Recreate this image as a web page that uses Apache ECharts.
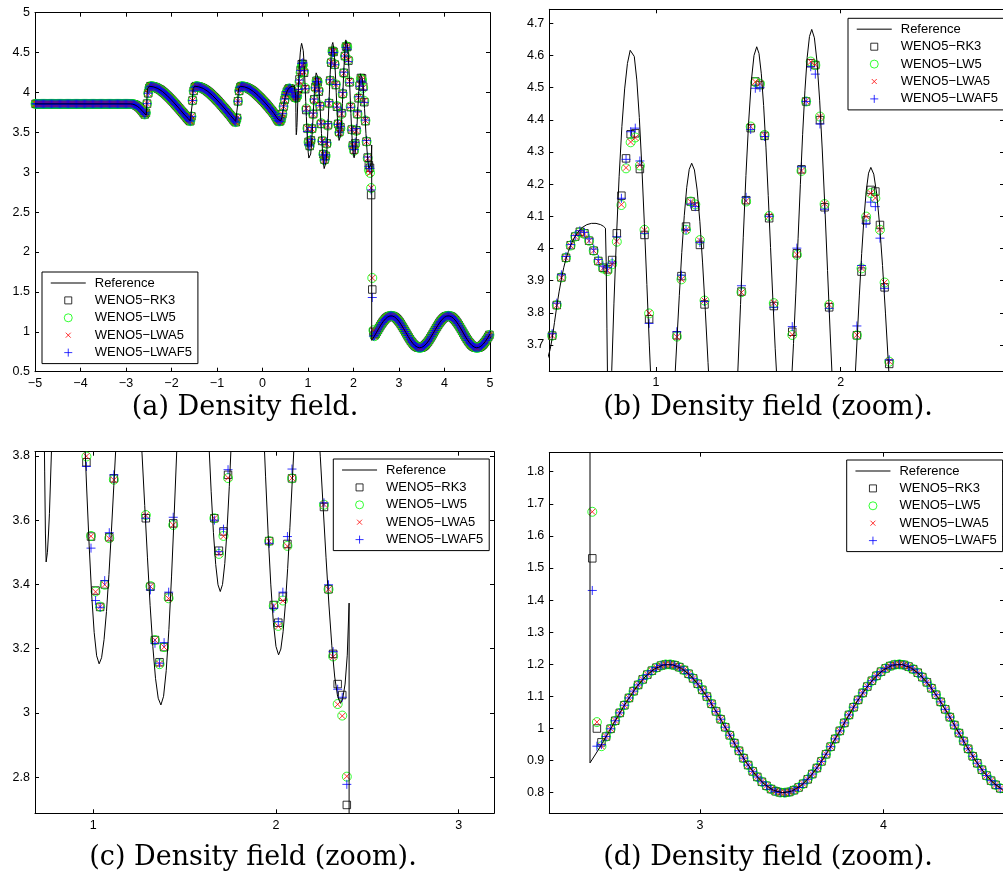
<!DOCTYPE html>
<html lang="en">
<head>
<meta charset="UTF-8">
<title>Density field</title>
<script src="https://cdn.jsdelivr.net/npm/echarts@6.0.0/dist/echarts.min.js"></script>
<style>html,body{margin:0;padding:0;background:#fff;}</style>
</head>
<body>
<div id="chart" style="width:1003px;height:878px;"></div>
<script>
// cell centres: x = x0 + dx * i, i = 0..399
var x0 = -4.9875, dx = 0.025;

// shared numerical density, cells 0..216 (x <= 0.4125)
var rhoLeft = [
  3.857, 3.857, 3.857, 3.857, 3.857, 3.857, 3.857, 3.857, 3.857, 3.857, 3.857, 3.857,
  3.857, 3.857, 3.857, 3.857, 3.857, 3.857, 3.857, 3.857, 3.857, 3.857, 3.857, 3.857,
  3.857, 3.857, 3.857, 3.857, 3.857, 3.857, 3.857, 3.857, 3.857, 3.857, 3.857, 3.857,
  3.857, 3.857, 3.857, 3.857, 3.857, 3.857, 3.857, 3.857, 3.857, 3.857, 3.857, 3.857,
  3.857, 3.857, 3.857, 3.857, 3.857, 3.857, 3.857, 3.857, 3.857, 3.857, 3.857, 3.857,
  3.857, 3.857, 3.857, 3.857, 3.857, 3.857, 3.857, 3.857, 3.857, 3.857, 3.857, 3.857,
  3.857, 3.857, 3.857, 3.857, 3.857, 3.857, 3.857, 3.857, 3.857, 3.857, 3.857, 3.857,
  3.856, 3.855, 3.852, 3.848, 3.842, 3.834, 3.824, 3.812, 3.798, 3.782, 3.765, 3.745,
  3.725, 3.745, 3.86, 3.99, 4.055,
  4.079, 4.078, 4.076, 4.072, 4.067, 4.062, 4.054, 4.046, 4.039, 4.030, 4.018, 4.007,
  3.996, 3.983, 3.969, 3.956, 3.942, 3.928, 3.913, 3.898, 3.883, 3.867, 3.851, 3.835,
  3.818, 3.802, 3.786, 3.769, 3.753, 3.737, 3.719, 3.702, 3.685, 3.668, 3.652, 3.640,
  3.70, 3.90, 4.02, 4.065,
  4.079, 4.078, 4.075, 4.071, 4.066, 4.060, 4.053, 4.045, 4.037, 4.028, 4.017, 4.006,
  3.994, 3.981, 3.968, 3.954, 3.940, 3.926, 3.911, 3.896, 3.881, 3.865, 3.849, 3.833,
  3.816, 3.800, 3.784, 3.767, 3.750, 3.733, 3.715, 3.697, 3.679, 3.660, 3.642, 3.628,
  3.68, 3.89, 4.02, 4.065,
  4.079, 4.077, 4.075, 4.071, 4.066, 4.060, 4.053, 4.045, 4.037, 4.028, 4.017, 4.006,
  3.994, 3.981, 3.968, 3.954, 3.940, 3.926, 3.911, 3.896, 3.881, 3.865, 3.849, 3.832,
  3.815, 3.798, 3.781, 3.763, 3.745, 3.726, 3.70, 3.675, 3.652, 3.638, 3.64, 3.668
];

// per-scheme density, cells 217..299 (x = 0.4375 .. 2.4875)
var rk3Mid = [
  3.729, 3.824, 3.910, 3.971, 4.010, 4.037, 4.052, 4.047, 4.024, 3.993,
  3.961, 3.940, 3.935, 3.964, 4.047, 4.164, 4.280, 4.355, 4.358, 4.247,
  4.042, 3.780, 3.549, 3.381, 3.330, 3.400, 3.547, 3.730, 3.914, 4.068,
  4.146, 4.130, 4.011, 3.826, 3.606, 3.393, 3.227, 3.158, 3.205, 3.362,
  3.590, 3.866, 4.150, 4.374, 4.519, 4.508, 4.350, 4.094, 3.821, 3.606,
  3.505, 3.565, 3.741, 3.985, 4.246, 4.457, 4.576, 4.570, 4.399, 4.128,
  3.817, 3.535, 3.336, 3.281, 3.362, 3.526, 3.730, 3.928, 4.087, 4.182,
  4.177, 4.073, 3.879, 3.641, 3.385, 3.184, 3.090, 3.056, 2.714, 1.530,
  1.000, 0.957, 0.975
];
var lw5Mid = [
  3.729, 3.824, 3.910, 3.971, 4.009, 4.037, 4.050, 4.045, 4.024, 3.993,
  3.960, 3.938, 3.930, 3.951, 4.021, 4.135, 4.249, 4.330, 4.345, 4.258,
  4.058, 3.798, 3.551, 3.378, 3.331, 3.399, 3.544, 3.726, 3.904, 4.058,
  4.146, 4.137, 4.026, 3.838, 3.616, 3.395, 3.227, 3.152, 3.205, 3.357,
  3.585, 3.864, 4.146, 4.379, 4.517, 4.512, 4.353, 4.101, 3.830, 3.606,
  3.495, 3.551, 3.731, 3.980, 4.241, 4.457, 4.581, 4.570, 4.410, 4.138,
  3.825, 3.535, 3.333, 3.271, 3.350, 3.520, 3.730, 3.938, 4.099, 4.172,
  4.156, 4.058, 3.894, 3.648, 3.385, 3.176, 3.028, 2.992, 2.802, 1.675,
  1.020, 0.945, 0.975
];
var lwa5Mid = [
  3.729, 3.823, 3.909, 3.971, 4.009, 4.037, 4.049, 4.045, 4.024, 3.993,
  3.960, 3.938, 3.931, 3.952, 4.022, 4.136, 4.251, 4.331, 4.344, 4.259,
  4.057, 3.799, 3.550, 3.377, 3.331, 3.399, 3.543, 3.725, 3.904, 4.057,
  4.145, 4.137, 4.025, 3.838, 3.615, 3.394, 3.227, 3.153, 3.205, 3.356,
  3.585, 3.863, 4.147, 4.379, 4.518, 4.513, 4.352, 4.101, 3.831, 3.606,
  3.496, 3.550, 3.732, 3.981, 4.241, 4.458, 4.580, 4.571, 4.410, 4.139,
  3.825, 3.534, 3.333, 3.270, 3.349, 3.519, 3.731, 3.939, 4.100, 4.172,
  4.157, 4.059, 3.894, 3.649, 3.385, 3.175, 3.027, 2.991, 2.803, 1.675,
  1.020, 0.945, 0.975
];
var lwaf5Mid = [
  3.735, 3.830, 3.918, 3.975, 4.012, 4.040, 4.055, 4.050, 4.030, 3.998,
  3.966, 3.945, 3.940, 3.958, 4.036, 4.156, 4.277, 4.363, 4.374, 4.272,
  4.047, 3.767, 3.513, 3.350, 3.329, 3.412, 3.561, 3.741, 3.917, 4.058,
  4.138, 4.130, 4.018, 3.835, 3.606, 3.383, 3.217, 3.155, 3.219, 3.376,
  3.609, 3.884, 4.159, 4.370, 4.498, 4.501, 4.348, 4.100, 3.817, 3.600,
  3.502, 3.572, 3.757, 4.001, 4.254, 4.457, 4.565, 4.542, 4.387, 4.122,
  3.814, 3.528, 3.326, 3.284, 3.376, 3.549, 3.759, 3.947, 4.078, 4.144,
  4.130, 4.032, 3.876, 3.654, 3.399, 3.191, 3.074, 3.049, 2.778, 1.430,
  0.945, 0.950, 0.975
];

// shared numerical density, cells 300..399 (pre-shock region)
var rhoRight = [
  0.9992, 1.0242, 1.0487, 1.0725, 1.0952, 1.1164, 1.1358, 1.1530, 1.1679, 1.1801,
  1.1896, 1.1960, 1.1995, 1.1997, 1.1969, 1.1911, 1.1822, 1.1705, 1.1562, 1.1394,
  1.1204, 1.0996, 1.0771, 1.0534, 1.0290, 1.0041, 0.9791, 0.9545, 0.9306, 0.9077,
  0.8863, 0.8667, 0.8492, 0.8341, 0.8217, 0.8115, 0.8047, 0.8008, 0.8001, 0.8025,
  0.8080, 0.8164, 0.8278, 0.8418, 0.8583, 0.8770, 0.8977, 0.9199, 0.9434, 0.9677,
  0.9926, 1.0176, 1.0423, 1.0663, 1.0893, 1.1109, 1.1308, 1.1487, 1.1642, 1.1771,
  1.1873, 1.1946, 1.1988, 1.2000, 1.1980, 1.1929, 1.1849, 1.1739, 1.1601, 1.1440,
  1.1255, 1.1052, 1.0831, 1.0598, 1.0355, 1.0107, 0.9858, 0.9610, 0.9368, 0.9137,
  0.8919, 0.8717, 0.8536, 0.8377, 0.8245, 0.8139, 0.8062, 0.8015, 0.8000, 0.8016,
  0.8063, 0.8139, 0.8246, 0.8379, 0.8537, 0.8719, 0.8920, 0.9139, 0.9370, 0.9612
];

// reference solution [x, rho]
var refCurve = [
  [-5, 3.857], [-2.9, 3.857], [-2.85, 3.853], [-2.8, 3.843], [-2.75, 3.826], [-2.7, 3.803],
  [-2.65, 3.775], [-2.6, 3.742], [-2.57, 3.722], [-2.555, 3.715], [-2.545, 3.85], [-2.535, 3.99],
  [-2.525, 4.05], [-2.51, 4.072], [-2.49, 4.078], [-2.46, 4.08],
  [-2.4, 4.071], [-2.3, 4.05], [-2.2, 4.013], [-2.1, 3.963], [-2.0, 3.905], [-1.9, 3.843],
  [-1.8, 3.778], [-1.7, 3.711], [-1.63, 3.672], [-1.59, 3.645], [-1.565, 3.632],
  [-1.555, 3.66], [-1.545, 3.85], [-1.535, 3.99], [-1.525, 4.05], [-1.51, 4.072], [-1.49, 4.078], [-1.46, 4.08],
  [-1.4, 4.071], [-1.3, 4.05], [-1.2, 4.013], [-1.1, 3.963], [-1.0, 3.905], [-0.9, 3.843],
  [-0.8, 3.778], [-0.7, 3.711], [-0.63, 3.665], [-0.59, 3.638], [-0.565, 3.625],
  [-0.555, 3.655], [-0.545, 3.85], [-0.535, 3.99], [-0.525, 4.05], [-0.51, 4.072], [-0.49, 4.078], [-0.46, 4.08],
  [-0.4, 4.071], [-0.3, 4.05], [-0.2, 4.013], [-0.1, 3.963], [0.0, 3.905], [0.1, 3.843],
  [0.2, 3.775], [0.25, 3.738], [0.3, 3.698], [0.35, 3.66], [0.38, 3.642], [0.4, 3.645],
  [0.415, 3.662], [0.426, 3.685], [0.4375, 3.72], [0.45, 3.77], [0.4625, 3.82], [0.475, 3.865],
  [0.4875, 3.905], [0.5, 3.94], [0.5125, 3.968], [0.525, 3.99], [0.5375, 4.01], [0.55, 4.025],
  [0.5625, 4.038], [0.575, 4.049], [0.5875, 4.058], [0.6, 4.065], [0.625, 4.074], [0.65, 4.078],
  [0.675, 4.078], [0.7, 4.074], [0.715, 4.069], [0.726, 4.063], [0.73, 3.96], [0.734, 3.75],
  [0.738, 3.56], [0.742, 3.47], [0.749, 3.5], [0.755, 3.56], [0.76, 3.62], [0.772, 3.83],
  [0.785, 4.026], [0.8, 4.223], [0.815, 4.379], [0.83, 4.496], [0.845, 4.575], [0.86, 4.616], [0.8685, 4.622],
  [0.8821, 4.597], [0.8958, 4.524], [0.9094, 4.407], [0.923, 4.255], [0.9366, 4.078], [0.9503, 3.888],
  [0.9639, 3.697], [0.9775, 3.52], [0.9911, 3.368], [1.0048, 3.251], [1.0184, 3.178], [1.032, 3.153],
  [1.0454, 3.172], [1.0588, 3.228], [1.0723, 3.316], [1.0857, 3.431], [1.0991, 3.565], [1.1125, 3.709],
  [1.1259, 3.853], [1.1393, 3.987], [1.1528, 4.102], [1.1662, 4.19], [1.1796, 4.246], [1.193, 4.265],
  [1.2078, 4.244], [1.2225, 4.182], [1.2373, 4.083], [1.252, 3.955], [1.2668, 3.806], [1.2815, 3.645],
  [1.2963, 3.485], [1.311, 3.335], [1.3258, 3.207], [1.3405, 3.108], [1.3553, 3.046], [1.37, 3.025],
  [1.3846, 3.052], [1.3992, 3.132], [1.4138, 3.26], [1.4283, 3.426], [1.4429, 3.619], [1.4575, 3.826],
  [1.4721, 4.033], [1.4867, 4.227], [1.5013, 4.392], [1.5158, 4.52], [1.5304, 4.6], [1.545, 4.627],
  [1.5575, 4.606], [1.57, 4.543], [1.5825, 4.444], [1.595, 4.315], [1.6075, 4.164], [1.62, 4.003],
  [1.6325, 3.841], [1.645, 3.69], [1.6575, 3.561], [1.67, 3.462], [1.6825, 3.399], [1.695, 3.378],
  [1.7073, 3.4], [1.7197, 3.465], [1.732, 3.569], [1.7443, 3.704], [1.7567, 3.861], [1.769, 4.03],
  [1.7813, 4.198], [1.7937, 4.355], [1.806, 4.49], [1.8183, 4.594], [1.8307, 4.659], [1.843, 4.681],
  [1.8573, 4.655], [1.8715, 4.581], [1.8858, 4.461], [1.9, 4.306], [1.9143, 4.125], [1.9285, 3.931],
  [1.9428, 3.737], [1.957, 3.556], [1.9713, 3.401], [1.9855, 3.282], [1.9998, 3.207], [2.014, 3.181],
  [2.0264, 3.199], [2.0388, 3.253], [2.0513, 3.338], [2.0637, 3.449], [2.0761, 3.578], [2.0885, 3.717],
  [2.1009, 3.855], [2.1133, 3.984], [2.1258, 4.095], [2.1382, 4.18], [2.1506, 4.234], [2.163, 4.252],
  [2.1788, 4.231], [2.1947, 4.17], [2.2105, 4.073], [2.2263, 3.947], [2.2422, 3.799], [2.258, 3.641],
  [2.2738, 3.483], [2.2897, 3.336], [2.3055, 3.209], [2.3213, 3.112], [2.3372, 3.051], [2.353, 3.03],
  [2.365, 3.045], [2.378, 3.09], [2.39, 3.18], [2.4, 3.342], [2.4, 0.893],
  [2.45, 0.9378], [2.5, 0.9867], [2.55, 1.0365], [2.6, 1.084], [2.65, 1.1264], [2.7, 1.1607],
  [2.75, 1.1852], [2.8, 1.1981], [2.85, 1.1987], [2.9, 1.187], [2.95, 1.1637], [3.0, 1.1301],
  [3.05, 1.0884], [3.1, 1.0413], [3.15, 0.9916], [3.2, 0.9424], [3.25, 0.8966], [3.3, 0.8577],
  [3.35, 0.8272], [3.4, 0.8077], [3.45, 0.8001], [3.5, 0.8049], [3.55, 0.8218], [3.6, 0.8498],
  [3.65, 0.8871], [3.7, 0.9315], [3.75, 0.9801], [3.8, 1.0298], [3.85, 1.078], [3.9, 1.1211],
  [3.95, 1.1567], [4.0, 1.1826], [4.05, 1.1971], [4.1, 1.1994], [4.15, 1.1892], [4.2, 1.1674],
  [4.25, 1.1351], [4.3, 1.0943], [4.35, 1.0478], [4.4, 0.9982], [4.45, 0.9488], [4.5, 0.9026],
  [4.55, 0.8624], [4.6, 0.8307], [4.65, 0.8097], [4.7, 0.8004], [4.75, 0.8035], [4.8, 0.8188],
  [4.85, 0.8455], [4.9, 0.8817], [4.95, 0.9253], [5.0, 0.9735]
];

var names = ['Reference', 'WENO5\u2212RK3', 'WENO5\u2212LW5', 'WENO5\u2212LWA5', 'WENO5\u2212LWAF5'];
var captions = ['(a) Density field.', '(b) Density field (zoom).', '(c) Density field (zoom).', '(d) Density field (zoom).'];

var xTicksA = [-5, -4, -3, -2, -1, 0, 1, 2, 3, 4, 5];
var yTicksA = [0.5, 1, 1.5, 2, 2.5, 3, 3.5, 4, 4.5, 5];
var xTicksB = [1, 2];
var yTicksB = [3.7, 3.8, 3.9, 4, 4.1, 4.2, 4.3, 4.4, 4.5, 4.6, 4.7];
var xTicksC = [1, 2, 3];
var yTicksC = [2.8, 3, 3.2, 3.4, 3.6, 3.8];
var xTicksD = [3, 4];
var yTicksD = [0.8, 0.9, 1, 1.1, 1.2, 1.3, 1.4, 1.5, 1.6, 1.7, 1.8];

function toPoints(vals) {
  return vals.map(function (v, i) { return [x0 + dx * i, v]; });
}
var rk3 = toPoints(rhoLeft.concat(rk3Mid, rhoRight));
var lw5 = toPoints(rhoLeft.concat(lw5Mid, rhoRight));
var lwa5 = toPoints(rhoLeft.concat(lwa5Mid, rhoRight));
var lwaf5 = toPoints(rhoLeft.concat(lwaf5Mid, rhoRight));

var panels = [
  {box: {left: 35, top: 12.7, width: 455, height: 359}, x: [-5, 5], y: [0.5, 5],
   xt: xTicksA, yt: yTicksA, leg: {left: 42, top: 272}, cap: [245, 408]},
  {box: {left: 549.3, top: 9.3, width: 454.7, height: 361.7}, x: [0.422, 2.884], y: [3.619, 4.7435],
   xt: xTicksB, yt: yTicksB, leg: {left: 848, top: 18.3}, cap: [768, 408]},
  {box: {left: 35, top: 451.7, width: 459, height: 361.6}, x: [0.681, 3.193], y: [2.688, 3.813],
   xt: xTicksC, yt: yTicksC, leg: {left: 333.3, top: 459}, cap: [253, 858]},
  {box: {left: 549.3, top: 452.7, width: 454.7, height: 360.6}, x: [2.178, 4.658], y: [0.736, 1.859],
   xt: xTicksD, yt: yTicksD, leg: {left: 846.7, top: 460}, cap: [768, 858]}
];

var labelFont = {fontFamily: 'Liberation Sans', fontSize: 12.5, color: '#000'};
function fmt(v) { return String(v).replace('-', '\u2212'); }

function axis(g, dir, pos, range, ticks, withLabels) {
  return {
    type: 'value', gridIndex: g, position: pos, min: range[0], max: range[1],
    axisLine: {show: true, onZero: false, lineStyle: {color: '#000', width: 1}},
    axisTick: {show: true, inside: true, length: 4, customValues: ticks, lineStyle: {color: '#000', width: 1}},
    axisLabel: withLabels ? Object.assign({show: true, customValues: ticks, formatter: fmt,
      margin: dir === 'x' ? 5.5 : 5}, labelFont) : {show: false},
    splitLine: {show: false}, minorTick: {show: false}
  };
}

var grids = [], xAxes = [], yAxes = [], series = [], legends = [], graphics = [];
panels.forEach(function (p, g) {
  grids.push(Object.assign({outerBoundsMode: 'none', containLabel: false}, p.box));
  xAxes.push(axis(g, 'x', 'bottom', p.x, p.xt, true));
  xAxes.push(axis(g, 'x', 'top', p.x, p.xt, false));
  yAxes.push(axis(g, 'y', 'left', p.y, p.yt, true));
  yAxes.push(axis(g, 'y', 'right', p.y, p.yt, false));
  var xi = 2 * g, yi = 2 * g;
  series.push({
    type: 'line', name: names[0], xAxisIndex: xi, yAxisIndex: yi, data: refCurve,
    symbol: 'none', clip: true, color: '#000', lineStyle: {color: '#000', width: 1}, silent: true
  });
  series.push({
    type: 'scatter', name: names[1], xAxisIndex: xi, yAxisIndex: yi, data: rk3,
    symbol: 'rect', symbolSize: 7.5, clip: true, silent: true,
    itemStyle: {color: 'rgba(0,0,0,0)', borderColor: '#000', borderWidth: 1}
  });
  series.push({
    type: 'scatter', name: names[2], xAxisIndex: xi, yAxisIndex: yi, data: lw5,
    symbol: 'circle', symbolSize: 9, clip: true, silent: true,
    itemStyle: {color: 'rgba(0,0,0,0)', borderColor: '#00ff00', borderWidth: 1}
  });
  series.push({
    type: 'scatter', name: names[3], xAxisIndex: xi, yAxisIndex: yi, data: lwa5,
    symbol: 'path://M0,0L10,10M10,0L0,10', symbolSize: 6, clip: true, silent: true,
    itemStyle: {color: 'rgba(0,0,0,0)', borderColor: '#ff0000', borderWidth: 1}
  });
  series.push({
    type: 'scatter', name: names[4], xAxisIndex: xi, yAxisIndex: yi, data: lwaf5,
    symbol: 'path://M5,0L5,10M0,5L10,5', symbolSize: 9, clip: true, silent: true,
    itemStyle: {color: 'rgba(0,0,0,0)', borderColor: '#0000ff', borderWidth: 1}
  });
  legends.push({
    orient: 'vertical', left: p.leg.left, top: p.leg.top, selectedMode: false,
    itemWidth: 35, itemHeight: 8, itemGap: 3.4, padding: [4, 6, 4, 8],
    backgroundColor: '#fff', borderColor: '#000', borderWidth: 1, borderRadius: 0,
    itemStyle: {borderWidth: 1},
    textStyle: {fontFamily: 'Liberation Sans', fontSize: 13, color: '#000', lineHeight: 14, padding: [0, 0, 0, 4]},
    data: [
      {name: names[0], icon: 'path://M0,0M35,8M0,4L35,4',
       itemStyle: {color: 'rgba(0,0,0,0)', borderColor: '#555', borderWidth: 1.5}},
      {name: names[1], icon: 'path://M0,0M8,8M0.5,0.5L7.5,0.5L7.5,7.5L0.5,7.5Z'},
      {name: names[2], icon: 'circle'},
      {name: names[3], icon: 'path://M0,0M8,8M1.5,1.5L6.5,6.5M6.5,1.5L1.5,6.5'},
      {name: names[4], icon: 'path://M4,0L4,8M0,4L8,4'}
    ]
  });
  graphics.push({
    type: 'text', x: p.cap[0], y: p.cap[1], silent: true,
    style: {text: captions[g], font: '27px "DejaVu Serif"', fill: '#000',
      textAlign: 'center', textVerticalAlign: 'middle', align: 'center', verticalAlign: 'middle'}
  });
});

var chart = echarts.init(document.getElementById('chart'), null, {renderer: 'canvas'});
chart.setOption({
  backgroundColor: '#fff',
  animation: false,
  grid: grids,
  xAxis: xAxes,
  yAxis: yAxes,
  legend: legends,
  series: series,
  graphic: graphics
});
</script>
</body>
</html>
